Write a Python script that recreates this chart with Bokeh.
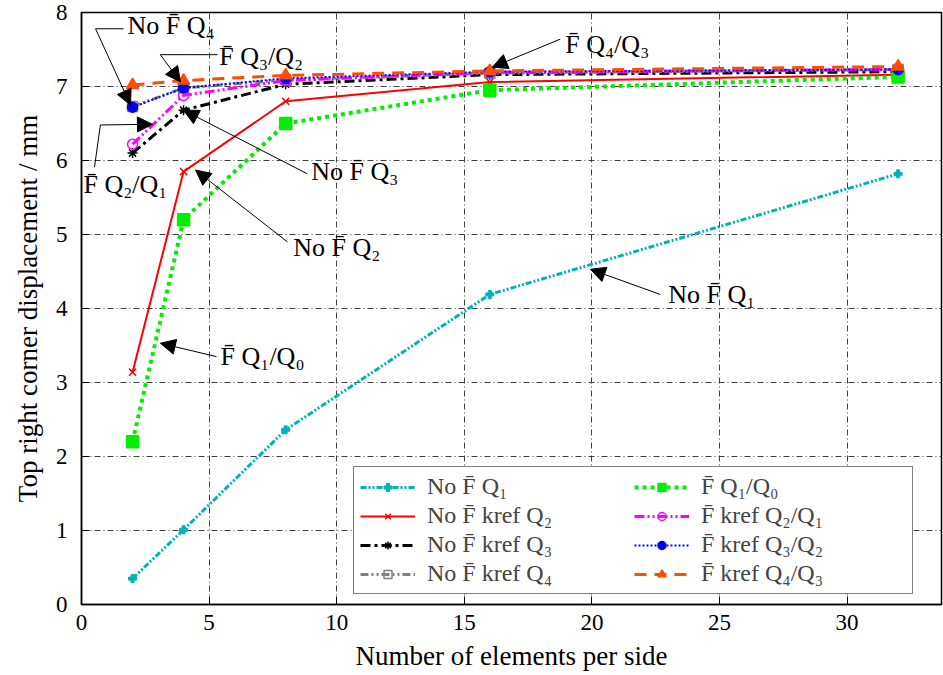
from bokeh.plotting import figure
from bokeh.models import (Legend, LegendItem, Arrow, NormalHead, Label, Range1d,
                          FixedTicker)
from bokeh.embed import file_html
from bokeh.resources import INLINE

# ---------------- data ----------------
elements = [2, 4, 8, 16, 32]
no_f_q1 = [0.35, 1.01, 2.36, 4.19, 5.82]
no_f_kref_q2 = [3.14, 5.85, 6.80, 7.06, 7.16]
no_f_kref_q3 = [6.10, 6.68, 7.03, 7.16, 7.20]
no_f_kref_q4 = [6.73, 6.98, 7.09, 7.18, 7.23]
f_q1_q0 = [2.20, 5.20, 6.50, 6.95, 7.13]
f_kref_q2_q1 = [6.22, 6.88, 7.08, 7.19, 7.23]
f_kref_q3_q2 = [6.72, 6.98, 7.11, 7.20, 7.23]
f_kref_q4_q3 = [7.02, 7.08, 7.15, 7.21, 7.27]

series_labels = ["No F\u0304 Q\u2081", "No F\u0304 kref Q\u2082", "No F\u0304 kref Q\u2083",
                 "No F\u0304 kref Q\u2084", "F\u0304 Q\u2081/Q\u2080", "F\u0304 kref Q\u2082/Q\u2081",
                 "F\u0304 kref Q\u2083/Q\u2082", "F\u0304 kref Q\u2084/Q\u2083"]

x_ticks = [0, 5, 10, 15, 20, 25, 30]
y_ticks = [0, 1, 2, 3, 4, 5, 6, 7, 8]

# annotation texts and their anchor/arrow points (data units)
ann_texts = ["No F\u0304 Q\u2084", "F\u0304 Q\u2083/Q\u2082", "F\u0304 Q\u2082/Q\u2081",
             "No F\u0304 Q\u2083", "No F\u0304 Q\u2082", "F\u0304 Q\u2081/Q\u2080",
             "F\u0304 Q\u2084/Q\u2083", "No F\u0304 Q\u2081"]
ann_text_x = [1.80, 5.40, 0.08, 9.00, 8.30, 5.45, 18.96, 22.99]
ann_text_y = [7.83, 7.40, 5.67, 5.85, 4.83, 3.35, 7.57, 4.19]
arrow_x0 = [0.55, 3.09, 0.74, 8.85, 8.07, 5.29, 18.76, 22.68]
arrow_y0 = [7.78, 7.43, 6.48, 5.82, 4.90, 3.35, 7.64, 4.19]
arrow_x1 = [1.92, 3.88, 2.78, 4.00, 4.47, 3.09, 16.10, 19.94]
arrow_y1 = [6.75, 7.06, 6.49, 6.68, 5.87, 3.53, 7.26, 4.53]
# leader lines (text -> arrow tail)
lead_x0 = [1.65, 5.33, 0.51]
lead_y0 = [7.78, 7.43, 5.91]
lead_x1 = [0.55, 3.09, 0.74]
lead_y1 = [7.78, 7.43, 6.48]

FONT = "Liberation Serif"

p = figure(width=943, height=675, output_backend="svg", toolbar_location=None,
           x_range=Range1d(0, 33.7), y_range=Range1d(0, 8),
           min_border_left=81, min_border_right=2, min_border_top=12, min_border_bottom=71)

p.xaxis.axis_label = "Number of elements per side"
p.yaxis.axis_label = "Top right corner displacement / mm"
p.xaxis.ticker = FixedTicker(ticks=x_ticks)
p.yaxis.ticker = FixedTicker(ticks=y_ticks)
for ax in (p.xaxis, p.yaxis):
    ax.axis_label_text_font = FONT
    ax.axis_label_text_font_size = "27px"
    ax.axis_label_text_font_style = "normal"
    ax.axis_label_text_color = "black"
    ax.major_label_text_font = FONT
    ax.major_label_text_font_size = "23px"
    ax.major_label_text_color = "black"
    ax.major_tick_in = 8
    ax.major_tick_out = 0
    ax.minor_tick_line_color = None
    ax.axis_line_color = "black"
    ax.axis_line_width = 1.5
    ax.major_tick_line_color = "black"
p.xaxis.major_label_standoff = 10
p.yaxis.major_label_standoff = 14
p.xaxis.axis_label_standoff = 8
p.yaxis.axis_label_standoff = 10

p.outline_line_color = "black"
p.outline_line_width = 1.5
p.outline_line_alpha = 1
for g in (p.xgrid, p.ygrid):
    g.grid_line_color = "#404040"
    g.grid_line_width = 1
    g.grid_line_dash = "6 3 1 3"
p.xgrid.ticker = FixedTicker(ticks=x_ticks[1:])
p.ygrid.ticker = FixedTicker(ticks=y_ticks[1:-1])

specs = [
    (no_f_q1, "#00b4b4", "6 2 2 2 2 2", 3, "plus", 8, True),
    (no_f_kref_q2, "#ff0000", "solid", 2, "x", 10, True),
    (no_f_kref_q3, "black", "10 4 3 4", 3, "asterisk", 10, True),
    (no_f_kref_q4, "#808080", "8 3 2 3 2 3", 3, "square", 10, False),
    (f_q1_q0, "#00ee00", "4 4", 4, "square", 12, True),
    (f_kref_q2_q1, "#ff00ff", "10 3 2 3 2 3", 3, "circle", 10, False),
    (f_kref_q3_q2, "#0000ff", "2 2", 2, "circle", 10, True),
    (f_kref_q4_q3, "#ff4d00", "12 8", 3, "triangle", 12, True),
]

items = []
for (ys, col, dash, lw, mk, ms, filled), lab in zip(specs, series_labels):
    r1 = p.line(elements, ys, line_color=col, line_dash=dash, line_width=lw)
    r2 = p.scatter(elements, ys, marker=mk, size=ms, line_color=col,
                   line_width=1 if mk == "plus" else 1.5,
                   fill_color=col if filled else None)
    items.append(LegendItem(label=lab, renderers=[r1, r2]))

legend = Legend(items=items, ncols=2, location=(272, 10),
                label_text_font=FONT, label_text_font_size="24px",
                label_height=23, glyph_width=55, glyph_height=20, spacing=2,
                padding=6, margin=0, border_line_color="black", border_line_width=1.5,
                background_fill_alpha=1, label_standoff=12, label_width=205)
p.add_layout(legend, "center")

for tx, ty, t in zip(ann_text_x, ann_text_y, ann_texts):
    p.add_layout(Label(x=tx, y=ty, text=t, text_font=FONT, text_font_size="26px",
                       text_baseline="middle", text_align="left", text_color="black",
                       background_fill_color=None))
for a, b, c, d in zip(arrow_x0, arrow_y0, arrow_x1, arrow_y1):
    p.add_layout(Arrow(x_start=a, y_start=b, x_end=c, y_end=d, line_width=1,
                       line_color="black",
                       end=NormalHead(size=15, fill_color="black", line_color="black")))
for a, b, c, d in zip(lead_x0, lead_y0, lead_x1, lead_y1):
    p.add_layout(Arrow(x_start=a, y_start=b, x_end=c, y_end=d, line_width=1,
                       line_color="black", end=None))

open("out.html", "w").write(file_html(p, INLINE))
